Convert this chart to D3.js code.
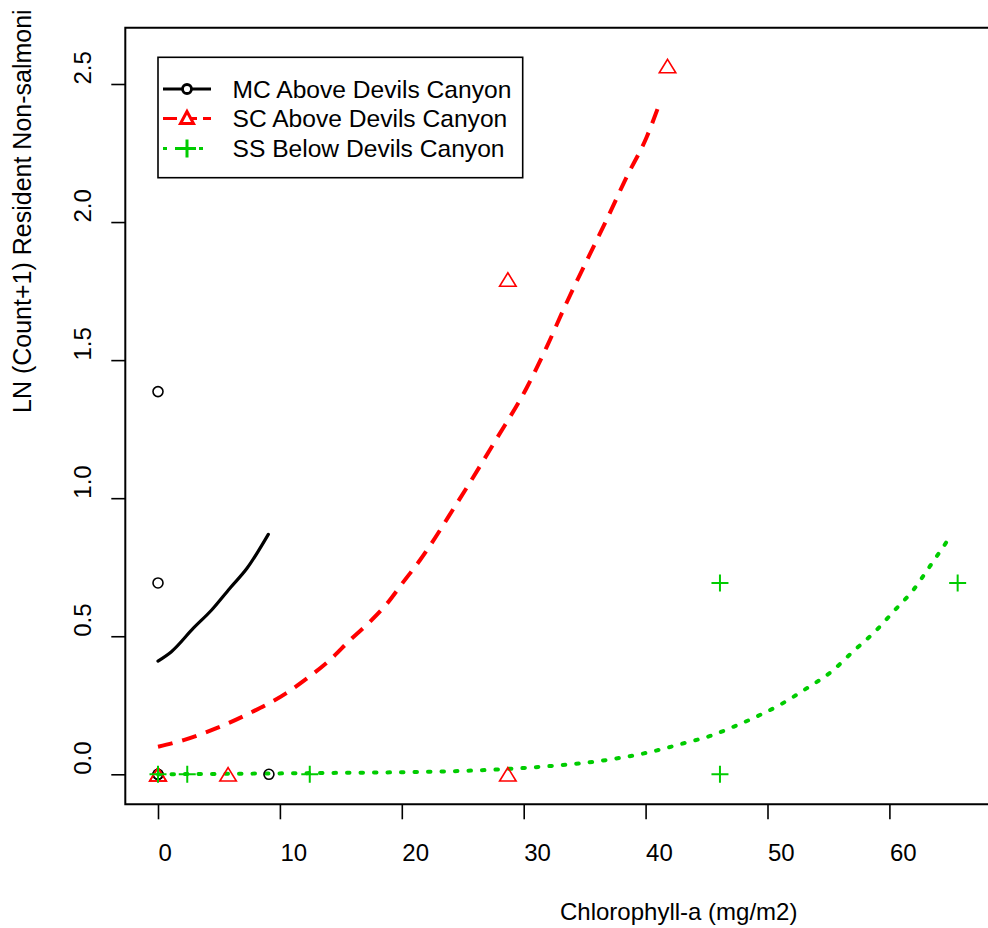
<!DOCTYPE html>
<html>
<head>
<meta charset="utf-8">
<script src="https://cdn.jsdelivr.net/npm/d3@7"></script>
<style>
  html, body { margin: 0; padding: 0; background: #fff; }
  svg { display: block; font-family: "Liberation Sans", Arial, sans-serif; }
</style>
</head>
<body>
<svg id="chart" width="988" height="928"></svg>
<script>
// ---- data ----
const seriesNames = ["MC Above Devils Canyon", "SC Above Devils Canyon", "SS Below Devils Canyon"];
const seriesColors = ["#000000", "#ff0000", "#00cc00"];

// observed points (chlorophyll-a, ln(count+1))
const mcX = [0, 0, 0, 0, 9.1];
const mcY = [0, 0, 0.693, 1.386, 0];
const scX = [0, 0, 5.75, 28.7, 28.7, 41.8];
const scY = [0, 0, 0, 0, 1.792, 2.565];
const ssX = [0, 2.4, 12.45, 46.1, 46.1, 65.6];
const ssY = [0, 0, 0, 0, 0.693, 0.693];

// fitted curves
const mcFitX = [0, 1.1, 2.9, 4.4, 5.9, 7.3, 9.05];
const mcFitY = [0.41, 0.444, 0.529, 0.595, 0.674, 0.746, 0.869];
const scFitX = [0, 2.1, 4.8, 7.5, 10.5, 12, 14.25, 15.75, 17.4, 18.8, 20.1, 21.5, 24.5, 27.8, 30.25, 31.9, 33.5, 35.2, 36.8, 38.45, 40.1, 41.1];
const scFitY = [0.10, 0.124, 0.167, 0.221, 0.293, 0.34, 0.42, 0.486, 0.553, 0.619, 0.695, 0.776, 0.98, 1.217, 1.40, 1.549, 1.706, 1.863, 2.008, 2.164, 2.309, 2.424];
const ssFitX = [0, 11.6, 24, 28, 32.2, 36.2, 40.1, 43.1, 45.3, 47.2, 49.1, 51, 53.2, 55.25, 57, 58.8, 60.45, 61.95, 63.3, 64.7];
const ssFitY = [0, 0.004, 0.011, 0.018, 0.03, 0.048, 0.078, 0.112, 0.139, 0.172, 0.209, 0.251, 0.311, 0.372, 0.444, 0.516, 0.595, 0.667, 0.752, 0.842];

const xTicks = [0, 10, 20, 30, 40, 50, 60];
const yTicks = [0, 0.5, 1.0, 1.5, 2.0, 2.5];
const yTickLabels = ["0.0", "0.5", "1.0", "1.5", "2.0", "2.5"];
const xTitle = "Chlorophyll-a (mg/m2)";
const yTitle = "LN (Count+1) Resident Non-salmoni";

// ---- scales ----
const svg = d3.select("#chart");
const x = d3.scaleLinear().domain([0, 60]).range([158, 889.4]);
const y = d3.scaleLinear().domain([0, 2.5]).range([774.3, 84]);

const boxLeft = 125.3, boxTop = 27.7, boxBottom = 804.3, boxRight = 1000;

// ---- box ----
svg.append("path")
  .attr("d", `M${boxRight},${boxTop}H${boxLeft}V${boxBottom}H${boxRight}`)
  .attr("fill", "none").attr("stroke", "#000").attr("stroke-width", 2);

// ---- axes ----
const xAxis = d3.axisBottom(x).tickValues(xTicks).tickSize(15).tickSizeOuter(0).tickFormat(d3.format("d"));
const gx = svg.append("g").attr("transform", `translate(0,${boxBottom})`).call(xAxis);
gx.select(".domain").remove();
gx.selectAll(".tick line").attr("stroke", "#000").attr("stroke-width", 1.6);
gx.selectAll(".tick text")
  .attr("text-anchor", "start").attr("x", 0).attr("y", 861 - boxBottom).attr("dy", null)
  .attr("font-size", 24).attr("fill", "#000").style("font-family", '"Liberation Sans", Arial, sans-serif');

const yAxis = d3.axisLeft(y).tickValues(yTicks).tickSize(14).tickSizeOuter(0)
  .tickFormat((d, i) => yTickLabels[i]);
const gy = svg.append("g").attr("transform", `translate(${boxLeft},0)`).call(yAxis);
gy.select(".domain").remove();
gy.selectAll(".tick line").attr("stroke", "#000").attr("stroke-width", 1.6);
gy.selectAll(".tick text")
  .attr("text-anchor", "start").attr("x", null).attr("dy", null)
  .attr("transform", `translate(${91 - boxLeft},0) rotate(-90)`)
  .attr("font-size", 24).attr("fill", "#000").style("font-family", '"Liberation Sans", Arial, sans-serif');

// ---- titles ----
svg.append("text").attr("x", 560).attr("y", 920).attr("font-size", 24).text(xTitle);
svg.append("text").attr("transform", "translate(31,413) rotate(-90)")
  .attr("text-anchor", "start").attr("font-size", 25).text(yTitle);

// ---- fitted lines ----
const line = d3.line().x(d => x(d[0])).y(d => y(d[1])).curve(d3.curveMonotoneX);
svg.append("path").datum(d3.zip(mcFitX, mcFitY)).attr("d", line)
  .attr("fill", "none").attr("stroke", seriesColors[0]).attr("stroke-width", 3.2).attr("stroke-linecap", "round");
svg.append("path").datum(d3.zip(scFitX, scFitY)).attr("d", line)
  .attr("fill", "none").attr("stroke", seriesColors[1]).attr("stroke-width", 4)
  .attr("stroke-dasharray", "15,10");
svg.append("path").datum(d3.zip(ssFitX, ssFitY)).attr("d", line)
  .attr("fill", "none").attr("stroke", seriesColors[2]).attr("stroke-width", 4)
  .attr("stroke-linecap", "round").attr("stroke-dasharray", "2.5,11");

// ---- markers ----
function triPath(w, h) { return `M0,${-h/2}L${w/2},${h/2}L${-w/2},${h/2}Z`; }
function plusPath(s) { return `M${-s/2},0H${s/2}M0,${-s/2}V${s/2}`; }

svg.append("g").selectAll("circle").data(d3.zip(mcX, mcY)).join("circle")
  .attr("cx", d => x(d[0])).attr("cy", d => y(d[1])).attr("r", 5)
  .attr("fill", "none").attr("stroke", seriesColors[0]).attr("stroke-width", 1.6);
svg.append("g").selectAll("path").data(d3.zip(scX, scY)).join("path")
  .attr("transform", d => `translate(${x(d[0])},${y(d[1])})`).attr("d", triPath(16.5, 13.5))
  .attr("fill", "none").attr("stroke", seriesColors[1]).attr("stroke-width", 1.6);
svg.append("g").selectAll("path").data(d3.zip(ssX, ssY)).join("path")
  .attr("transform", d => `translate(${x(d[0])},${y(d[1])})`).attr("d", plusPath(17))
  .attr("fill", "none").attr("stroke", seriesColors[2]).attr("stroke-width", 2);

// ---- legend ----
const lg = svg.append("g");
lg.append("rect").attr("x", 158).attr("y", 57.3).attr("width", 364.7).attr("height", 120.4)
  .attr("fill", "#fff").attr("stroke", "#000").attr("stroke-width", 1.6);
const rowsY = [89, 118.5, 148.5];
const dashes = [null, "14,6", "4,8"];
seriesNames.forEach((name, i) => {
  const yy = rowsY[i];
  lg.append("line").attr("x1", 163).attr("x2", 211).attr("y1", yy).attr("y2", yy)
    .attr("stroke", seriesColors[i]).attr("stroke-width", 3.2)
    .attr("stroke-dasharray", dashes[i]);
  if (i === 0) {
    lg.append("circle").attr("cx", 187).attr("cy", yy).attr("r", 4.5)
      .attr("fill", "#fff").attr("stroke", seriesColors[i]).attr("stroke-width", 2.8);
  } else if (i === 1) {
    lg.append("path").attr("transform", `translate(187,${yy - 1})`).attr("d", triPath(13, 12))
      .attr("fill", "#fff").attr("stroke", seriesColors[i]).attr("stroke-width", 3);
  } else {
    lg.append("rect").attr("x", 178).attr("y", yy - 3).attr("width", 18).attr("height", 6).attr("fill", "#fff");
    lg.append("path").attr("transform", `translate(187,${yy})`).attr("d", plusPath(18))
      .attr("fill", "none").attr("stroke", seriesColors[i]).attr("stroke-width", 3);
  }
  lg.append("text").attr("x", 232.5).attr("y", yy + 8.7).attr("font-size", 24.6).text(name);
});
</script>
</body>
</html>
